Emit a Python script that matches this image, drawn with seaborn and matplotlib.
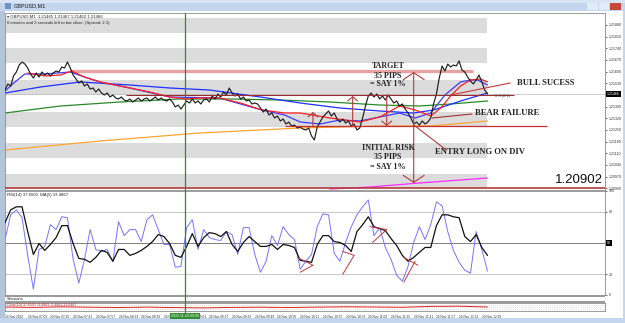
import numpy as np
import matplotlib
matplotlib.use("Agg")
import matplotlib.pyplot as plt
import matplotlib.transforms as mtransforms
from matplotlib.patches import Rectangle
from matplotlib.lines import Line2D
import seaborn as sns

sns.set_style("white")
plt.rcParams["font.family"] = ["Liberation Sans", "DejaVu Sans"]

W, H = 625, 323

# ---------------------------------------------------------------
# data (GBPUSD M1, 24 Nov 2022, x = minutes after 06:53)
# ---------------------------------------------------------------
close_step = 2  # one close reading every 2 minutes
close_px = [
    1.21490, 1.21526, 1.21514, 1.21574, 1.21598, 1.21640, 1.21658, 1.21646, 1.21622, 1.21586,
    1.21562, 1.21592, 1.21568, 1.21598, 1.21580, 1.21592, 1.21574, 1.21592, 1.21604, 1.21598,
    1.21628, 1.21622, 1.21658, 1.21622, 1.21580, 1.21556, 1.21532, 1.21544, 1.21514, 1.21526,
    1.21496, 1.21502, 1.21478, 1.21496, 1.21472, 1.21460, 1.21472, 1.21448, 1.21460, 1.21442,
    1.21436, 1.21448, 1.21430, 1.21424, 1.21436, 1.21418, 1.21430, 1.21442, 1.21424, 1.21436,
    1.21442, 1.21424, 1.21436, 1.21448, 1.21430, 1.21442, 1.21430, 1.21424, 1.21436, 1.21418,
    1.21388, 1.21400, 1.21376, 1.21400, 1.21424, 1.21412, 1.21436, 1.21412, 1.21424, 1.21406,
    1.21430, 1.21436, 1.21418, 1.21454, 1.21436, 1.21466, 1.21448, 1.21478, 1.21460, 1.21502,
    1.21472, 1.21454, 1.21466, 1.21436, 1.21448, 1.21424, 1.21430, 1.21406, 1.21412, 1.21406,
    1.21382, 1.21358, 1.21376, 1.21340, 1.21352, 1.21322, 1.21334, 1.21304, 1.21316, 1.21286,
    1.21298, 1.21274, 1.21280, 1.21262, 1.21268, 1.21256, 1.21250, 1.21262, 1.21214, 1.21190,
    1.21268, 1.21298, 1.21328, 1.21346, 1.21364, 1.21334, 1.21352, 1.21316, 1.21298, 1.21316,
    1.21292, 1.21304, 1.21274, 1.21286, 1.21250, 1.21262, 1.21322, 1.21394, 1.21454, 1.21472,
    1.21448, 1.21466, 1.21436, 1.21454, 1.21430, 1.21460, 1.21436, 1.21412, 1.21424, 1.21394,
    1.21406, 1.21376, 1.21352, 1.21322, 1.21286, 1.21298, 1.21280, 1.21304, 1.21286, 1.21298,
    1.21322, 1.21406, 1.21466, 1.21562, 1.21634, 1.21604, 1.21646, 1.21628, 1.21640, 1.21634,
    1.21664, 1.21610, 1.21598, 1.21568, 1.21544, 1.21526, 1.21550, 1.21580, 1.21538, 1.21490,
    1.21466,
]

# moving averages (minute, price)
red_ma_min = [16, 28, 39, 47, 56, 67, 88, 102, 116, 127, 137, 151, 166, 181, 197, 208,
              229, 250, 264, 278, 289, 300, 307, 314, 321, 328, 335, 340]
red_ma_px = [1.21592, 1.21574, 1.21580, 1.21604, 1.21568, 1.21538, 1.21502, 1.21478,
             1.21448, 1.21436, 1.21442, 1.21442, 1.21412, 1.21370, 1.21352, 1.21352,
             1.21322, 1.21298, 1.21328, 1.21394, 1.21370, 1.21334, 1.21382, 1.21454,
             1.21514, 1.21550, 1.21556, 1.21538]

blue_fast_min = [0, 7, 14, 28, 46, 56, 67, 88, 116, 151, 181, 197, 208, 222, 236, 250,
                 264, 278, 289, 300, 310, 321, 328, 333, 340]
blue_fast_px = [1.21484, 1.21538, 1.21586, 1.21586, 1.21598, 1.21568, 1.21538, 1.21502,
                1.21448, 1.21442, 1.21370, 1.21340, 1.21298, 1.21286, 1.21310, 1.21304,
                1.21328, 1.21352, 1.21322, 1.21352, 1.21460, 1.21538, 1.21550, 1.21550,
                1.21520]

blue_slow_min = [0, 25, 53, 88, 116, 144, 180, 208, 236, 264, 288, 302, 321, 340]
blue_slow_px = [1.21472, 1.21508, 1.21538, 1.21520, 1.21502, 1.21490, 1.21448, 1.21412,
                1.21382, 1.21364, 1.21352, 1.21370, 1.21424, 1.21472]

green_min = [0, 39, 81, 123, 159, 194, 229, 264, 292, 314, 340]
green_px = [1.21352, 1.21394, 1.21418, 1.21436, 1.21436, 1.21430, 1.21418, 1.21400,
            1.21394, 1.21406, 1.21424]

orange_min = [0, 67, 137, 208, 264, 300, 340]
orange_px = [1.21130, 1.21184, 1.21232, 1.21262, 1.21274, 1.21274, 1.21304]

magenta_min = [229, 257, 292, 340]
magenta_px = [1.20896, 1.20908, 1.20932, 1.20962]

# grey zone rectangles drawn on the chart
band_lo = [1.21832, 1.21652, 1.21460, 1.21268, 1.21082, 1.20902]
band_hi = [1.21922, 1.21742, 1.21550, 1.21358, 1.21172, 1.20986]
band_end_min = 340

# trader levels: price, from minute, to minute
target_level = (1.21604, 46, 330)
resist_level = (1.21460, 85, 359)
entry_level = (1.21274, 197, 382)
stop_price = 1.20902

# arrows: minute, from price, to price, big head
arrow_min = [288, 288, 217, 245, 269]
arrow_from = [1.21274, 1.21274, 1.21274, 1.21274, 1.21460]
arrow_to = [1.21598, 1.20932, 1.21358, 1.21454, 1.21274]
arrow_big = [True, True, False, False, False]

# RSI panel, one reading every 4 minutes
rsi_step = 4
rsi_black = [
    69.5, 81.9, 84.8, 84.8, 61.0, 39.0, 49.5, 42.9, 48.6, 55.2,
    66.7, 66.7, 49.5, 35.2, 34.3, 31.4, 36.2, 42.9, 41.0, 32.4,
    43.8, 43.8, 38.1, 40.0, 42.9, 46.7, 51.4, 58.1, 56.2, 49.5,
    38.1, 36.2, 46.7, 59.0, 46.7, 55.2, 60.0, 59.0, 56.2, 61.0,
    48.6, 41.9, 50.5, 56.2, 51.4, 46.7, 46.7, 48.6, 43.8, 48.6,
    47.6, 45.7, 33.3, 32.4, 31.4, 48.6, 57.1, 57.1, 51.4, 50.5,
    47.6, 41.9, 61.0, 67.6, 75.2, 65.7, 63.8, 61.9, 54.3, 47.6,
    38.1, 32.4, 36.2, 41.0, 45.7, 45.7, 66.7, 77.1, 77.1, 75.2,
    74.3, 56.2, 51.4, 58.1, 45.7, 38.1,
]
rsi_blue = [
    53.3, 77.1, 81.9, 74.3, 38.1, 5.7, 43.8, 46.7, 67.6, 62.9,
    75.2, 74.3, 34.3, 11.4, 34.3, 62.9, 43.8, 41.9, 43.8, 32.4,
    70.5, 57.1, 62.9, 62.9, 51.4, 72.4, 77.1, 62.9, 48.6, 48.6,
    26.7, 27.6, 64.8, 72.4, 43.8, 62.9, 55.2, 53.3, 52.4, 61.0,
    58.1, 39.0, 64.8, 64.8, 39.0, 21.9, 32.4, 57.1, 47.6, 65.7,
    58.1, 53.3, 24.8, 32.4, 39.0, 65.7, 78.1, 77.1, 40.0, 32.4,
    50.5, 65.7, 77.1, 84.8, 91.4, 57.1, 64.8, 45.7, 34.3, 19.0,
    13.3, 27.6, 50.5, 65.7, 53.3, 67.6, 89.5, 85.7, 61.0, 42.9,
    31.4, 23.8, 21.0, 61.0, 43.8, 22.9,
]
rsi_levels = [80, 50, 20]
# divergence strokes on the RSI: (min0, v0, min1, v1)
div_lines = [(206, 36.2, 217, 28.6), (208, 21.9, 217, 28.6),
             (238, 41.9, 246, 38.1), (238, 20.0, 246, 38.1),
             (257, 65.7, 269, 62.9), (259, 50.5, 269, 62.9),
             (281, 36.2, 291, 28.6), (281, 12.4, 289, 32.4)]

# bottom indicator, one reading every 20 minutes
sess_step = 20
sess_val = [4.0, 3.6, 4.2, 3.8, 3.5, 3.9, 3.4, 3.1, 3.6, 3.8, 3.5, 3.9, 4.2, 4.0, 3.7,
            4.6, 4.8, 4.0]

tick_min = list(range(0, 337, 16))
tick_lab = ["24 Nov 2022", "24 Nov 07:09", "24 Nov 07:25", "24 Nov 07:41", "24 Nov 07:57",
            "24 Nov 08:13", "24 Nov 08:29", "24 Nov 08:45", "24 Nov 09:01", "24 Nov 09:17",
            "24 Nov 09:33", "24 Nov 09:49", "24 Nov 10:05", "24 Nov 10:21", "24 Nov 10:37",
            "24 Nov 10:53", "24 Nov 11:09", "24 Nov 11:25", "24 Nov 11:41", "24 Nov 11:57",
            "24 Nov 12:13", "24 Nov 12:29"]
cursor_min = 127
price_ticks = [1.20900 + 0.0007 * k for k in range(15)]

X_MAX = 422.8
ARROW = "#b23b3b"
SERIF = dict(family=["Liberation Serif", "DejaVu Serif"], weight="bold", color="#262626")
TICK_FS = 2.6

# ---------------------------------------------------------------
fig = plt.figure(figsize=(W / 100, H / 100), dpi=100)
fig.patch.set_facecolor("white")


def px_axes(x0, y0, x1, y1):
    return fig.add_axes([x0 / W, 1 - y1 / H, (x1 - x0) / W, (y1 - y0) / H])


def px_rect(x0, y0, x1, y1, color, z=0):
    fig.add_artist(Rectangle((x0 / W, 1 - y1 / H), (x1 - x0) / W, (y1 - y0) / H,
                             transform=fig.transFigure, facecolor=color,
                             edgecolor="none", zorder=z))


def style_axes(a):
    for s in a.spines.values():
        s.set_color("#8c8c8c")
        s.set_linewidth(0.6)
    a.set_xlim(0, X_MAX)
    a.set_xlabel("")
    a.set_ylabel("")


# window chrome
px_rect(0, 0, 625, 11, "#c4d6ee")
px_rect(0, 0, 625, 3, "#d8e5f5")
px_rect(0, 11, 5, 323, "#b4c5da")
px_rect(623, 11, 625, 323, "#c4d6ee")
px_rect(0, 318, 625, 323, "#c4d6ee")
px_rect(5, 3, 11, 9, "#6f93c2")
px_rect(587, 3, 598, 10, "#e3ebf6")
px_rect(599, 3, 609, 10, "#e3ebf6")
px_rect(610, 3, 621, 10, "#c8483a")
fig.text(14 / W, 1 - 6 / H, "GBPUSD,M1", fontsize=4, va="center", color="#1a1a1a")

# ---------------- main price panel ----------------
ax = px_axes(5, 13, 605, 190)
ax.set_ylim(1.20890, 1.21952)

for lo, hi in zip(band_lo, band_hi):
    ax.axhspan(lo, hi, xmin=0, xmax=band_end_min / X_MAX, color="#dcdcdc", lw=0, zorder=0)

sns.lineplot(x=orange_min, y=orange_px, ax=ax, color="#ffa531", lw=0.9, zorder=2)
sns.lineplot(x=magenta_min, y=magenta_px, ax=ax, color="#ff2bff", lw=0.9, zorder=2)
sns.lineplot(x=green_min, y=green_px, ax=ax, color="#2a8a2a", lw=0.9, zorder=2)
sns.lineplot(x=blue_slow_min, y=blue_slow_px, ax=ax, color="#1f2fff", lw=0.9, zorder=3)
sns.lineplot(x=blue_fast_min, y=blue_fast_px, ax=ax, color="#3b3bff", lw=0.9, zorder=3)
sns.lineplot(x=red_ma_min, y=red_ma_px, ax=ax, color="#ff2020", lw=0.9, zorder=3.5)
sns.lineplot(x=np.arange(len(close_px)) * close_step, y=close_px, ax=ax,
             color="#1e1e1e", lw=0.85, zorder=4)
style_axes(ax)

last_px = close_px[-1]
ax.axhline(last_px, color="#b9b9b9", lw=0.5, zorder=1)
ax.hlines(target_level[0], target_level[1], target_level[2], color="#e7a3a3", lw=2.4, zorder=1)
ax.hlines(resist_level[0], resist_level[1], resist_level[2], color="#9c2c2c", lw=0.8, zorder=5)
ax.hlines(entry_level[0], entry_level[1], entry_level[2], color="#c43030", lw=0.9, zorder=5)
ax.axhline(stop_price, color="#b23b3b", lw=1.2, zorder=5)

for m, p0, p1, big in zip(arrow_min, arrow_from, arrow_to, arrow_big):
    hw, hl = (0.75, 0.5) if big else (0.35, 0.3)
    ax.annotate("", xy=(m, p1), xytext=(m, p0),
                arrowprops=dict(arrowstyle=f"->,head_length={hl},head_width={hw}",
                                color=ARROW, lw=0.8, shrinkA=0, shrinkB=0,
                                mutation_scale=10), zorder=6)

ax.plot([288, 311], [1.21280, 1.21130], color=ARROW, lw=0.8, zorder=6)
ax.plot([314, 356], [1.21460, 1.21532], color="#c43a3a", lw=0.8, zorder=6)
ax.plot([301, 329], [1.21322, 1.21346], color="#a83232", lw=0.8, zorder=6)

ax.text(270, 1.21634, "TARGET", ha="center", va="center", fontsize=5.8, zorder=7, **SERIF)
ax.text(270, 1.21574, "35 PIPS", ha="center", va="center", fontsize=5.8, zorder=7, **SERIF)
ax.text(270, 1.21526, "= SAY 1%", ha="center", va="center", fontsize=5.8, zorder=7, **SERIF)
ax.text(270, 1.21142, "INITIAL RISK", ha="center", va="center", fontsize=5.8, zorder=7, **SERIF)
ax.text(270, 1.21088, "35 PIPS", ha="center", va="center", fontsize=5.8, zorder=7, **SERIF)
ax.text(270, 1.21028, "= SAY 1%", ha="center", va="center", fontsize=5.8, zorder=7, **SERIF)
ax.text(361, 1.21532, "BULL SUCESS", ha="left", va="center", fontsize=6.2, zorder=7, **SERIF)
ax.text(331, 1.21352, "BEAR FAILURE", ha="left", va="center", fontsize=6.2, zorder=7, **SERIF)
ax.text(303, 1.21118, "ENTRY LONG ON DIV", ha="left", va="center", fontsize=6.2, zorder=7, **SERIF)
ax.text(345, 1.21454, "0.3 (2.1)", ha="left", va="center", fontsize=3.0, color="#555555", zorder=7)
ax.text(421.5, 1.20912, f"{stop_price:.5f}", ha="right", va="bottom", fontsize=9.5,
        color="#111111", zorder=7)

ax.text(0.004, 0.99, "\u25be GBPUSD,M1  1.21465 1.21467 1.21462 1.21466",
        transform=ax.transAxes, fontsize=3.1, va="top", color="#222222")
ax.text(0.004, 0.955, "0 minutes and 3 seconds left to bar close. (Spread: 2.1)",
        transform=ax.transAxes, fontsize=3.1, va="top", color="#222222")

ax.set_xticks([])
ax.yaxis.tick_right()
ax.set_yticks(price_ticks)
ax.set_yticklabels(["" if abs(v - last_px) < 0.0002 else f"{v:.5f}" for v in price_ticks])
ax.tick_params(axis="y", labelsize=TICK_FS, length=1.5, width=0.5, pad=1.0, colors="#333333")
ax.text(1.003, last_px, f"{last_px:.5f}",
        transform=mtransforms.blended_transform_factory(ax.transAxes, ax.transData),
        fontsize=TICK_FS, color="white", va="center", ha="left",
        bbox=dict(boxstyle="square,pad=0.2", fc="black", ec="none"))

# ---------------- RSI panel ----------------
ar = px_axes(5, 191, 605, 295)
ar.set_ylim(0, 100)
for lv in rsi_levels:
    ar.axhline(lv, color="#7f7f7f" if lv == 50 else "#c8c8c8", lw=0.7, zorder=0)
rsi_x = np.arange(len(rsi_black)) * rsi_step
sns.lineplot(x=rsi_x, y=rsi_blue, ax=ar, color="#7474ff", lw=0.7, zorder=2)
sns.lineplot(x=rsi_x, y=rsi_black, ax=ar, color="#111111", lw=0.9, zorder=3)
for m0, v0, m1, v1 in div_lines:
    ar.plot([m0, m1], [v0, v1], color="#c43a3a", lw=0.7, zorder=4)
style_axes(ar)
ar.text(0.004, 0.985, "RSI(14) 37.6503  MA(5) 33.4867", transform=ar.transAxes,
        fontsize=3.1, va="top", color="#222222")
ar.set_xticks([])
ar.yaxis.tick_right()
ar.set_yticks([0, 20, 80, 100])
ar.set_yticklabels(["0", "20", "80", "100"])
ar.tick_params(axis="y", labelsize=TICK_FS, length=1.5, width=0.5, pad=1.0, colors="#333333")
ar.text(1.003, 50, "50", transform=mtransforms.blended_transform_factory(ar.transAxes, ar.transData),
        fontsize=TICK_FS, color="white", va="center", ha="left",
        bbox=dict(boxstyle="square,pad=0.2", fc="black", ec="none"))

# ---------------- bottom indicator panel ----------------
px_rect(5, 295, 605, 297, "#9a9a9a", z=5)
px_rect(5, 301, 605, 303, "#9a9a9a", z=5)
fig.text(7 / W, 1 - 299.2 / H, "Sessions", fontsize=3.0, va="center", color="#222222")
asn = px_axes(5, 303, 605, 311)
asn.set_ylim(0, 8)
for lv in [2, 4, 6]:
    asn.axhline(lv, color="#c4c4c4", lw=0.5, ls=":", zorder=0)
sns.lineplot(x=np.arange(len(sess_val)) * sess_step, y=sess_val, ax=asn,
             color="#e02020", lw=0.7, zorder=2)
style_axes(asn)
asn.text(0.004, 0.95, "Chop(14) 37.6503 -0.4863 -0.4863 22.6487", transform=asn.transAxes,
         fontsize=2.6, va="top", color="#c03030")
asn.set_yticks([])
asn.set_xticks(tick_min)
asn.set_xticklabels(tick_lab, ha="left")
asn.tick_params(axis="x", labelsize=2.3, length=1.5, width=0.5, pad=1.2, colors="#333333")
asn.annotate("2022.11.24 09:00", xy=(cursor_min, 0), xycoords=("data", "axes fraction"),
             xytext=(0, -2.0), textcoords="offset points", ha="center", va="top",
             fontsize=2.6, color="white",
             bbox=dict(boxstyle="square,pad=0.3", fc="#2f8f2f", ec="none"), zorder=9)

# cursor line through all panels
fig.canvas.draw()
xd = ax.transData.transform((cursor_min, 1.21))[0] / fig.dpi / fig.get_figwidth()
fig.add_artist(Line2D([xd, xd], [1 - 313 / H, 1 - 13 / H], transform=fig.transFigure,
                      color="#2a8c2a", lw=0.9, zorder=8))

fig.savefig("out.png", dpi=100)
